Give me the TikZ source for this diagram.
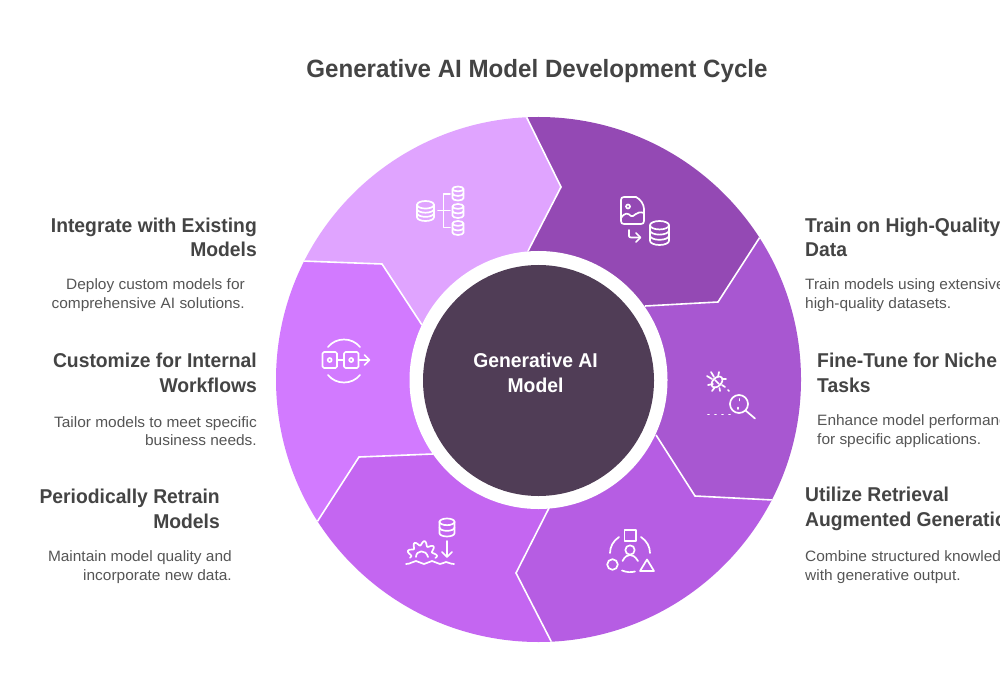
\documentclass[tikz,border=0pt]{standalone}
\usepackage{fontspec}
\setmainfont{Liberation Sans}
\newfontfamily\headfont[FakeStretch=0.965]{Liberation Sans}
\newfontfamily\bodyfont[FakeStretch=1.03]{Liberation Sans}
\definecolor{segA}{HTML}{E0A4FF}
\definecolor{segB}{HTML}{9449B4}
\definecolor{segC}{HTML}{A857D1}
\definecolor{segD}{HTML}{B65DE3}
\definecolor{segE}{HTML}{C466F1}
\definecolor{segF}{HTML}{D27AFF}
\definecolor{hub}{HTML}{503D56}
\definecolor{headc}{HTML}{444444}
\definecolor{bodyc}{HTML}{555555}
\tikzset{
 sepline/.style={draw=white,line width=1.6pt,line join=miter},
 ico/.style={draw=white,line width=1.7pt,line cap=round,line join=round,fill=none},
 headl/.style={inner sep=0pt,font=\headfont\fontsize{20}{24.5}\selectfont\bfseries,text=headc},
 bodyl/.style={inner sep=0pt,font=\bodyfont\fontsize{15}{18.5}\selectfont,text=bodyc},
}
% x, y, width, height, band count
\newcommand{\dbicon}[5]{%
 \pgfmathsetmacro{\rxx}{#3/2}\pgfmathsetmacro{\ryy}{#3/4.5}%
 \pgfmathsetmacro{\topy}{#2-#4/2+\ryy}\pgfmathsetmacro{\boty}{#2+#4/2-\ryy}%
 \draw[ico] (#1,\topy) ellipse [x radius=\rxx,y radius=\ryy];
 \draw[ico] (#1-\rxx,\topy) -- (#1-\rxx,\boty) arc[start angle=180,end angle=360,x radius=\rxx,y radius=-\ryy] -- (#1+\rxx,\topy);
 \foreach \k in {1,...,#5}{
  \pgfmathsetmacro{\yy}{\topy+(\boty-\topy)*\k/(#5+1)}
  \draw[ico] (#1-\rxx,\yy) arc[start angle=180,end angle=360,x radius=\rxx,y radius=-\ryy];
 }%
}
\begin{document}
\begin{tikzpicture}[x=1pt,y=-1pt]
\useasboundingbox (0,0) rectangle (1000,700);
\fill[white] (0,0) rectangle (1000,700);
\coordinate (C) at (538.5,379.5);
\coordinate (O1) at (526,116); \coordinate (E1) at (561,187); \coordinate (I1) at (528,251);
\coordinate (O2) at (760,237); \coordinate (E2) at (718,302); \coordinate (I2) at (645,306);
\coordinate (O3) at (773,500); \coordinate (E3) at (695,496); \coordinate (I3) at (656,435);
\coordinate (O4) at (552,643); \coordinate (E4) at (516,573); \coordinate (I4) at (549,508);
\coordinate (O5) at (317,522); \coordinate (E5) at (359,457); \coordinate (I5) at (433,454);
\coordinate (O6) at (302,261); \coordinate (E6) at (382,264); \coordinate (I6) at (422,325);
\begin{scope}
 \clip (C) circle [radius=262.5];
 \fill[segA] (O6)--(E6)--(I6)--(C)--(I1)--(E1)--(O1)--(250,60)--cycle;
 \fill[segB] (O1)--(E1)--(I1)--(C)--(I2)--(E2)--(O2)--(830,60)--cycle;
 \fill[segC] (O2)--(E2)--(I2)--(C)--(I3)--(E3)--(O3)--(900,370)--cycle;
 \fill[segD] (O3)--(E3)--(I3)--(C)--(I4)--(E4)--(O4)--(830,700)--cycle;
 \fill[segE] (O4)--(E4)--(I4)--(C)--(I5)--(E5)--(O5)--(250,700)--cycle;
 \fill[segF] (O5)--(E5)--(I5)--(C)--(I6)--(E6)--(O6)--(180,380)--cycle;
 \draw[sepline] (O1)--(E1)--(I1);
 \draw[sepline] (O2)--(E2)--(I2);
 \draw[sepline] (O3)--(E3)--(I3);
 \draw[sepline] (O4)--(E4)--(I4);
 \draw[sepline] (O5)--(E5)--(I5);
 \draw[sepline] (O6)--(E6)--(I6);
\end{scope}
\fill[white] (538.5,380) circle [radius=129];
\fill[hub] (538.5,380.5) circle [radius=115.5];
\node[inner sep=0pt,align=center,text=white,font=\headfont\fontsize{20}{24.5}\selectfont\bfseries] (hubt) at (535.5,373) {Generative AI\\Model};
\node[inner sep=0pt,text=headc,font=\headfont\fontsize{25}{30}\selectfont\bfseries] (title) at (537,71) {Generative AI Model Development Cycle};
% left labels
\node[headl,align=right,anchor=east] (h6) at (257,237.5) {Integrate with Existing\\Models};
\node[bodyl,align=right,anchor=east] (b6) at (245,295) {Deploy custom models for\\comprehensive AI solutions.};
\node[headl,align=right,anchor=east] (h5) at (257,373) {Customize for Internal\\Workflows};
\node[bodyl,align=right,anchor=east] (b5) at (257,431) {Tailor models to meet specific\\business needs.};
\node[headl,align=right,anchor=east] (h4) at (220,509) {Periodically Retrain\\Models};
\node[bodyl,align=right,anchor=east] (b4) at (232,567) {Maintain model quality and\\incorporate new data.};
% right labels
\node[headl,align=left,anchor=west] (h1) at (805,237.5) {Train on High-Quality\\Data};
\node[bodyl,align=left,anchor=west] (b1) at (805,295) {Train models using extensive\\high-quality datasets.};
\node[headl,align=left,anchor=west] (h2) at (817,373) {Fine-Tune for Niche\\Tasks};
\node[bodyl,align=left,anchor=west] (b2) at (817,431) {Enhance model performance\\for specific applications.};
\node[headl,align=left,anchor=west] (h3) at (805,509) {Utilize Retrieval\\Augmented Generation};
\node[bodyl,align=left,anchor=west] (b3) at (805,567) {Combine structured knowledge\\with generative output.};
% icon: database tree
\dbicon{425.5}{211}{17}{20}{2}
\dbicon{458}{193.5}{11}{14}{1}
\dbicon{458}{211}{11}{14}{1}
\dbicon{458}{228}{11}{14}{1}
\draw[ico] (450,194) -- (443.5,194) -- (443.5,227.5) -- (450,227.5);
\draw[ico] (438,210.5) -- (450,210.5);
% icon: image to database
\draw[ico] (624,197) -- (636,197) .. controls (640,199) and (644,204) .. (644,209) -- (644,221) .. controls (644,223) and (643,224) .. (641,224) -- (624,224) .. controls (622,224) and (621,223) .. (621,221) -- (621,200) .. controls (621,198) and (622,197) .. (624,197);
\draw[ico] (628,206.5) circle [radius=2];
\draw[ico] (621,218) .. controls (625,212) and (628,213) .. (631,216) .. controls (634,218) and (636,210) .. (644,213);
\dbicon{659.5}{233}{19}{24}{2}
\draw[ico] (629,230) -- (629,236) .. controls (629,237) and (630,237.5) .. (631,237.5) -- (640,237.5);
\draw[ico] (636,233) -- (640.5,237.5) -- (636,242);
% icon: bug and magnifier
\draw[ico,rotate around={45:(717,382)}] (717,382) ellipse [x radius=6.5,y radius=4.2];
\draw[ico] (715,380) -- (719,384);
\draw[ico] (711,372) -- (714,377) (707,376) -- (712,379) (708,385) -- (713,384) (712,391) -- (715,387) (719,372) -- (718,377) (726,379) -- (722,379) (725,387) -- (722,385) (720,391) -- (719.5,388);
\draw[ico] (728,390) -- (729,391);
\draw[ico] (739,404) circle [radius=9];
\draw[ico] (745.5,410.5) -- (755,418.5);
\draw[ico] (739.5,399) -- (739.5,400.5) (738,407.5) -- (738,409);
\draw[ico] (708,414.5) -- (709,414.5) (715,414.5) -- (716,414.5) (722,414.5) -- (723,414.5) (729,414.5) -- (730,414.5);
% icon: retrieval
\draw[ico] (624.5,530) rectangle (636,541);
\draw[ico] (630,550) circle [radius=4.7];
\draw[ico] (622.5,561) .. controls (625,556) and (628,555) .. (630,555) .. controls (632,555) and (635,556) .. (638,561);
\draw[ico] (612.5,564.5) circle [radius=5.3];
\draw[ico] (640,571) -- (654,571) -- (647,559.5) -- cycle;
\draw[ico] (610,553) .. controls (610,547) and (613,541) .. (619,537);
\draw[ico] (641,537) .. controls (647,541) and (650,547) .. (650,553);
\draw[ico] (622,570.5) .. controls (627,572.5) and (631,572.5) .. (635,571.5);
% icon: retrain
\dbicon{447}{527.5}{15}{18}{1}
\draw[ico] (447,541) -- (447,556.5);
\draw[ico] (442,552) -- (447,557) -- (452,552);
\draw[ico] plot[smooth,domain=-8:188,samples=70] ({422+(12.8+2.2*cos(9*\x))*cos(\x)},{556-(12.8+2.2*cos(9*\x))*sin(\x)});
\draw[ico] (416,557) .. controls (416,550) and (426,549) .. (428,557);
\draw[ico] (406,564) .. controls (411,564) and (413,561) .. (416,561) .. controls (419,561) and (421,564) .. (424,564) .. controls (427,564) and (429,561) .. (432,561) .. controls (435,561) and (437,564) .. (440,564) .. controls (443,564) and (444,562) .. (446,562) .. controls (448,562) and (450,564) .. (454,564);
% icon: workflow
\draw[ico,rounded corners=1.5pt] (322.5,352) rectangle (337,368);
\draw[ico,rounded corners=1.5pt] (344,352) rectangle (358.5,368);
\draw[ico] (329.7,360) circle [radius=2];
\draw[ico] (351.2,360) circle [radius=2];
\draw[ico] (337,360) -- (344,360);
\draw[ico] (358.5,360) -- (369,360);
\draw[ico] (364.5,355) -- (369.5,360) -- (364.5,365);
\draw[ico] (328,347) .. controls (336,337) and (352,337) .. (360,347);
\draw[ico] (328,375) .. controls (336,385) and (352,385) .. (360,375);
\end{tikzpicture}
\end{document}
